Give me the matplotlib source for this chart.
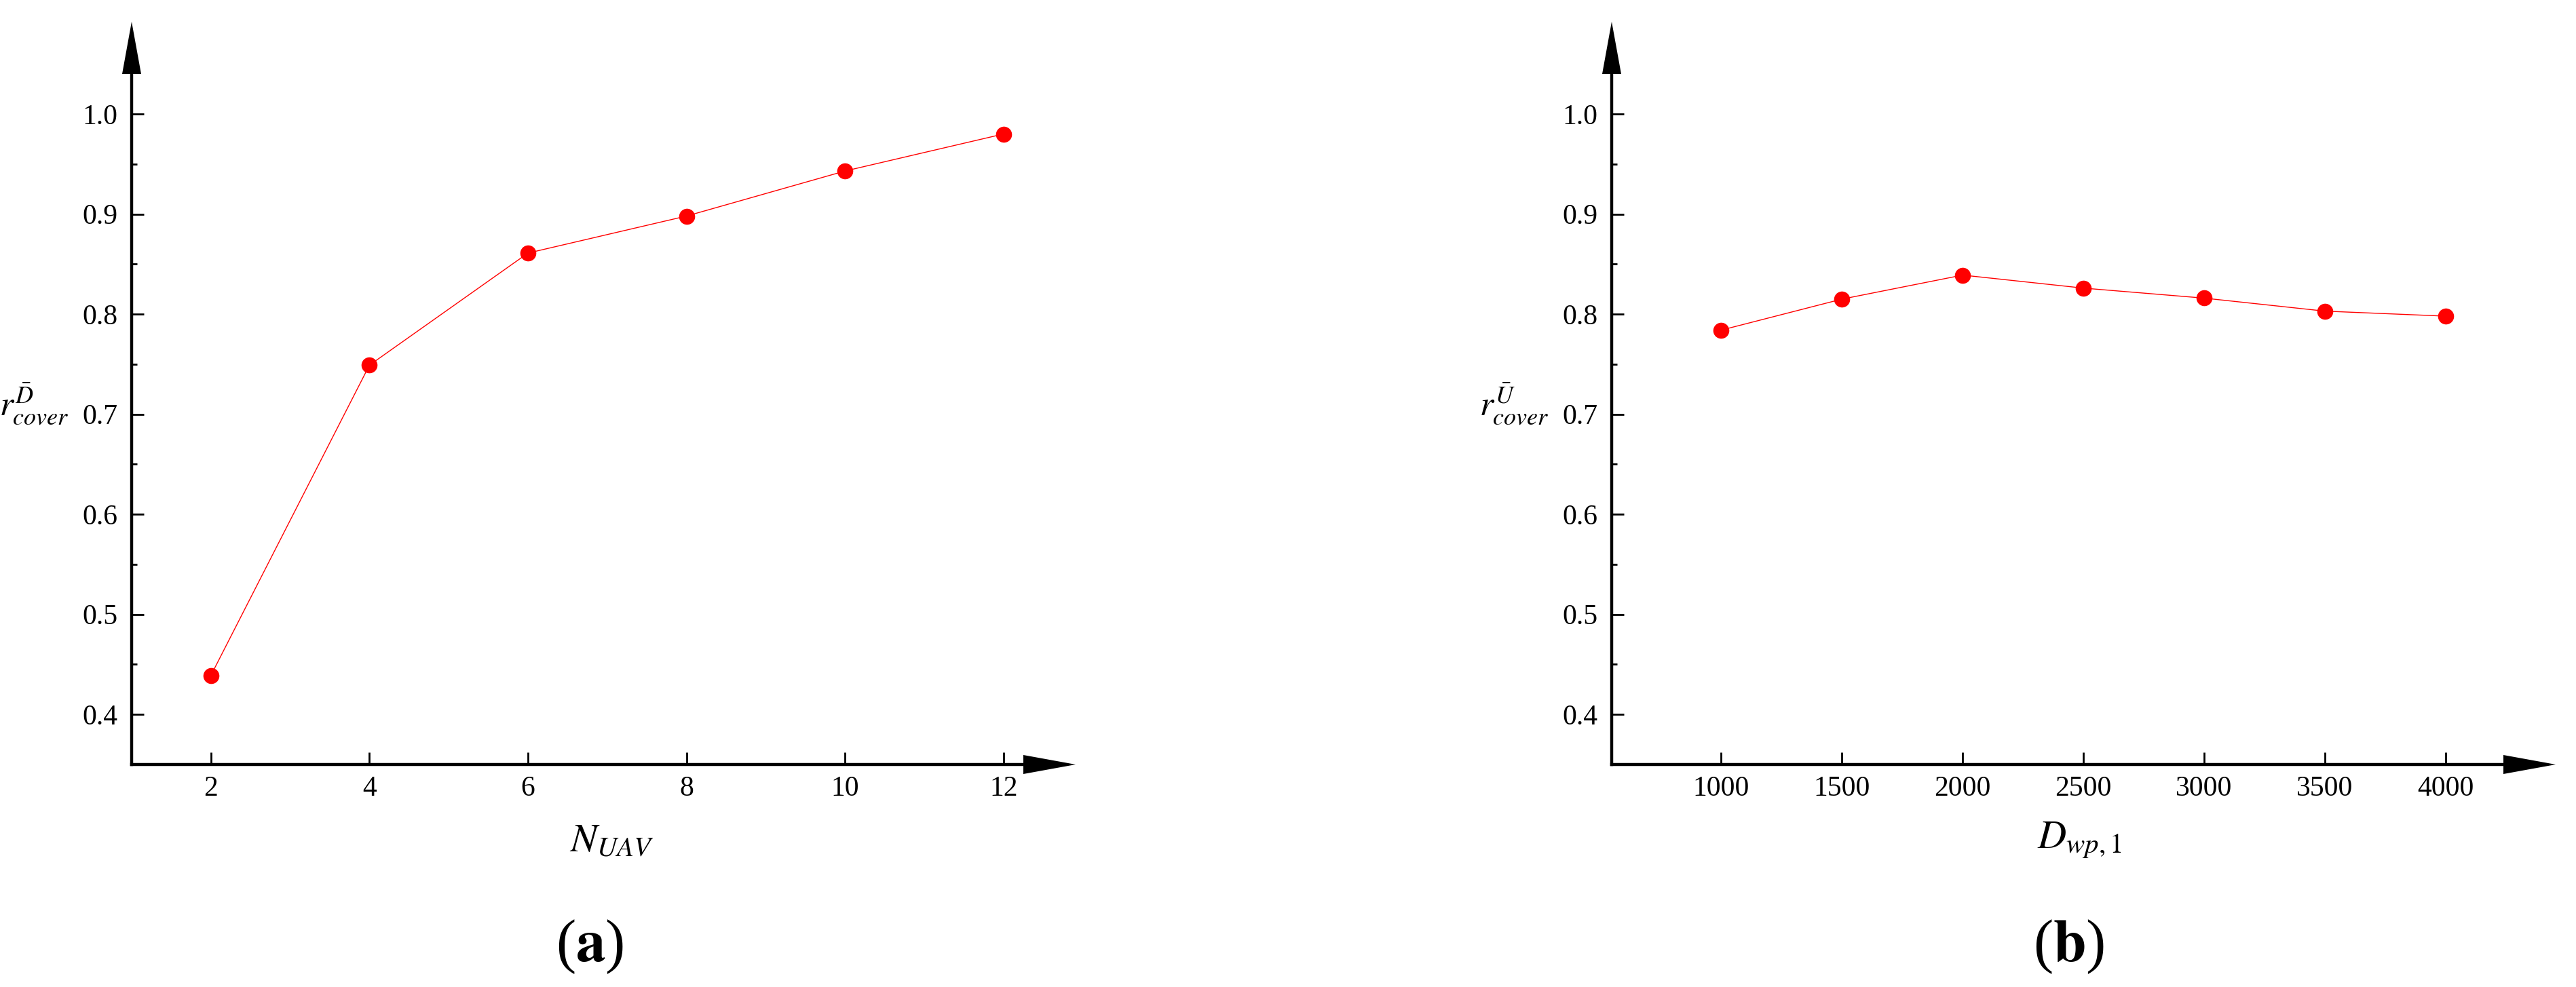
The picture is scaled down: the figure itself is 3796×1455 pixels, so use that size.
import matplotlib
matplotlib.use("Agg")
import matplotlib.pyplot as plt
from matplotlib.patches import Polygon
from matplotlib.ticker import MultipleLocator

plt.rcParams['font.family'] = ['Liberation Serif', 'DejaVu Serif']
plt.rcParams['mathtext.fontset'] = 'stix'

# (a) coverage vs number of UAVs
n_uav = [2, 4, 6, 8, 10, 12]
cover_a = [0.439, 0.749, 0.861, 0.898, 0.943, 0.980]

# (b) coverage vs D_wp,1
d_wp = [1000, 1500, 2000, 2500, 3000, 3500, 4000]
cover_b = [0.784, 0.815, 0.839, 0.826, 0.816, 0.803, 0.798]

FIG_W, FIG_H = 3796, 1455
DPI = 100

fig = plt.figure(figsize=(FIG_W / DPI, FIG_H / DPI), dpi=DPI)

ax_w = 1314 / FIG_W
ax_h = (1127 - 109) / FIG_H
ax_y0 = (FIG_H - 1127) / FIG_H
ax_a = fig.add_axes([194 / FIG_W, ax_y0, ax_w, ax_h])
ax_b = fig.add_axes([2375 / FIG_W, ax_y0, ax_w, ax_h])


def add_arrows(ax):
    # arrow heads at the ends of both axes, sizes in pixels
    w_px = ax_w * FIG_W
    h_px = ax_h * FIG_H
    head_len = 77
    half_w = 14
    xa = Polygon([(1, half_w / h_px), (1 + head_len / w_px, 0), (1, -half_w / h_px)],
                 closed=True, transform=ax.transAxes, clip_on=False, color='black', lw=0)
    ya = Polygon([(-half_w / w_px, 1), (0, 1 + head_len / h_px), (half_w / w_px, 1)],
                 closed=True, transform=ax.transAxes, clip_on=False, color='black', lw=0)
    ax.add_patch(xa)
    ax.add_patch(ya)


def style_axes(ax):
    for side in ['top', 'right']:
        ax.spines[side].set_visible(False)
    for side in ['left', 'bottom']:
        ax.spines[side].set_linewidth(3.2)
    ax.tick_params(axis='both', which='major', direction='in', length=13, width=2,
                   labelsize=30)
    ax.tick_params(axis='y', which='major', pad=15)
    ax.tick_params(axis='x', which='major', pad=12)
    ax.tick_params(axis='y', which='minor', direction='in', length=6, width=2)
    ax.set_ylim(0.35, 1.04)
    ax.yaxis.set_major_locator(MultipleLocator(0.1))
    ax.yaxis.set_minor_locator(MultipleLocator(0.05))
    ax.yaxis.set_major_formatter(plt.FuncFormatter(lambda v, p: f"{v:.1f}"))
    add_arrows(ax)


# panel (a)
ax_a.plot(n_uav, cover_a, color='#ff0000', linewidth=1.0, marker='o',
          markersize=17, markeredgewidth=0)
ax_a.set_xlim(1.0, 12.25)
ax_a.set_xticks(n_uav)
style_axes(ax_a)

# panel (b)
ax_b.plot(d_wp, cover_b, color='#ff0000', linewidth=1.0, marker='o',
          markersize=17, markeredgewidth=0)
ax_b.set_xlim(547, 4239)
ax_b.set_xticks(d_wp)
style_axes(ax_b)

# axis labels (Origin style, horizontal y label)
fig.text(901 / FIG_W, (FIG_H - 1256) / FIG_H, r'$N_{UAV}$', fontsize=42,
         ha='center', va='baseline')
fig.text(3064 / FIG_W, (FIG_H - 1250) / FIG_H, r'$D_{wp,1}$', fontsize=42,
         ha='center', va='baseline')
fig.text(102 / FIG_W, (FIG_H - 613) / FIG_H, r'$r_{cover}^{\bar{D}}$', fontsize=37,
         ha='right', va='baseline')
fig.text(2283 / FIG_W, (FIG_H - 613) / FIG_H, r'$r_{cover}^{\bar{U}}$', fontsize=37,
         ha='right', va='baseline')

# panel captions
fig.text(869 / FIG_W, (FIG_H - 1417) / FIG_H, r'($\mathbf{a}$)', fontsize=63,
         ha='center', va='baseline')
fig.text(3049 / FIG_W, (FIG_H - 1417) / FIG_H, r'($\mathbf{b}$)', fontsize=63,
         ha='center', va='baseline')

fig.savefig("out.png", dpi=DPI, facecolor='white')
